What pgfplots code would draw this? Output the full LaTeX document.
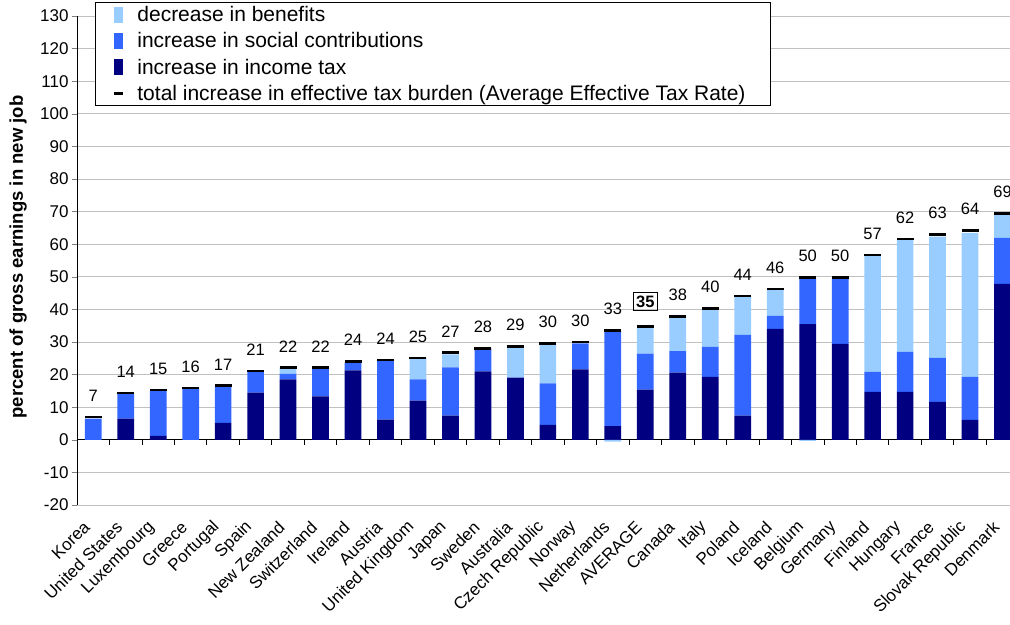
\documentclass[border=0pt]{standalone}
\usepackage{fontspec}
\setmainfont{Liberation Sans}
\usepackage{pgfplots}
\usepackage{pgfplotstable}
\pgfplotsset{compat=1.18}

\definecolor{cInc}{HTML}{000080}
\definecolor{cSoc}{HTML}{3366FF}
\definecolor{cBen}{HTML}{99CCFF}
\definecolor{cGrid}{HTML}{C0C0C0}

\DeclareRobustCommand{\avglabel}{{\fboxsep=2.5pt\fboxrule=0.8pt\fbox{\textbf{35}}}}

% idx: Korea ... Denmark
\pgfplotstableread{
idx inc  soc  ben
0   0    6.5  0
1   6.5  7.6  0
2   1.2  13.9 0
3   0    15.8 0
4   5.2  11.1 0
5   14.5 6.4  0
6   18.5 1.7  2.0
7   13.3 8.6  0
8   21.3 2.4  0
9   6.2  18.0 0
10  12.0 6.5  6.5
11  7.4  14.8 4.0
12  21.0 7.0  0
13  19.1 0    9.3
14  4.6  12.7 12.0
15  21.6 8.0  0
16  4.2  29.1 0
17  15.4 11.0 8.1
18  20.6 6.6  10.8
19  19.3 9.2  11.3
20  7.4  24.8 11.7
21  34.0 4.0  8.0
22  35.5 14.0 0
23  29.4 20.1 0
24  14.7 6.1  35.6
25  14.7 12.3 34.3
26  11.6 13.5 37.2
27  6.1  13.2 44.2
28  47.8 14.1 7.6
}\data

\pgfplotsset{
  base/.style={
    scale only axis, width=933pt, height=489pt,
    xmin=-0.5, xmax=28.23, ymin=-20, ymax=130,
    /pgf/number format/assume math mode=true,
  },
  swatch/.style={legend image code/.code={
    \path[draw=none, fill=none] (-16pt,0pt) (21pt,0pt);
    \fill[#1, draw=none] (0pt,-8pt) rectangle (9pt,8pt);}},
}

\begin{document}
\begin{tikzpicture}
\begin{axis}[base, name=ax,
  ybar stacked, bar width=16.7pt,
  axis y line*=left, axis x line*=bottom,
  x axis line style={draw=none},
  xtick={0,...,28}, xtick style={draw=none},
  xticklabels={Korea, United States, Luxembourg, Greece, Portugal, Spain,
    New Zealand, Switzerland, Ireland, Austria, United Kingdom, Japan,
    Sweden, Australia, Czech Republic, Norway, Netherlands, AVERAGE,
    Canada, Italy, Poland, Iceland, Belgium, Germany, Finland, Hungary,
    France, Slovak Republic, Denmark},
  xticklabel style={xshift=-4pt, yshift=-17pt, rotate=45, anchor=east,
    font=\fontsize{17}{20}\selectfont},
  ytick={-20,-10,...,130}, ytick align=outside, major tick length=5pt,
  yticklabel style={font=\fontsize{17}{20}\selectfont},
  ymajorgrids, grid style={cGrid, line width=0.8pt},
  ylabel={\bfseries percent of gross earnings in new job},
  ylabel style={at={(axis description cs:-0.0632,0.507)}, anchor=center,
    font=\fontsize{18.5}{22}\selectfont},
  legend style={at={(0,1)}, anchor=north west, xshift=18pt, yshift=14pt,
    draw=black, line width=0.8pt, fill=white,
    font=\fontsize{21}{24}\selectfont, legend cell align=left,
    row sep=5.5pt},
]
\addplot[fill=cInc, draw=none, forget plot] table[x=idx, y=inc] {\data};
\addplot[fill=cSoc, draw=none, forget plot] table[x=idx, y=soc] {\data};
\addplot[fill=cBen, draw=none, forget plot] table[x=idx, y=ben] {\data};

\draw[black, line width=0.8pt] (axis cs:-0.5,0) -- (axis cs:28.23,0);
\pgfplotsinvokeforeach{0,...,28}{
  \draw[black, line width=0.8pt] (axis cs:#1-0.5,0) -- ++(0pt,-5pt);
}

\addlegendimage{swatch=cBen}
\addlegendentry{decrease in benefits}
\addlegendimage{swatch=cSoc}
\addlegendentry{increase in social contributions}
\addlegendimage{swatch=cInc}
\addlegendentry{increase in income tax}
\addlegendimage{legend image code/.code={
  \path[draw=none, fill=none] (-16pt,0pt) (21pt,0pt);
  \draw[black, line width=2.6pt] (0pt,0pt) -- (9pt,0pt);}}
\addlegendentry{total increase in effective tax burden (Average Effective Tax Rate)\rule{20pt}{0pt}}
\end{axis}

\begin{axis}[base, hide axis]
% small negative benefit parts
\addplot[ybar, bar width=16.7pt, fill=cBen, draw=none] coordinates {(16,-0.6) (22,-0.3)};
% total markers with labels
\addplot[only marks, mark=-, mark size=8.5pt, mark options={black, line width=2.6pt},
  point meta=explicit symbolic, nodes near coords,
  nodes near coords style={font=\fontsize{16.5}{19}\selectfont, yshift=11pt, black}]
coordinates {
(0,7.0) [7] (1,14.3) [14] (2,15.3) [15] (3,15.9) [16] (4,16.6) [17]
(5,21.1) [21] (6,22.1) [22] (7,22.1) [22] (8,24.1) [24] (9,24.5) [24]
(10,25.1) [25] (11,26.7) [27] (12,28.0) [28] (13,28.7) [29] (14,29.6) [30]
(15,30.0) [30] (16,33.6) [33] (17,34.8) [\avglabel] (18,37.9) [38] (19,40.2) [40]
(20,44.1) [44] (21,46.3) [46] (22,49.8) [50] (23,49.8) [50] (24,56.7) [57]
(25,61.6) [62] (26,63.0) [63] (27,64.2) [64] (28,69.4) [69]
};
\end{axis}

\pgfresetboundingbox
\path[use as bounding box] ([shift={(-77pt,-120pt)}]ax.south west)
  rectangle ([shift={(0pt,16pt)}]ax.north east);
\end{tikzpicture}
\end{document}
